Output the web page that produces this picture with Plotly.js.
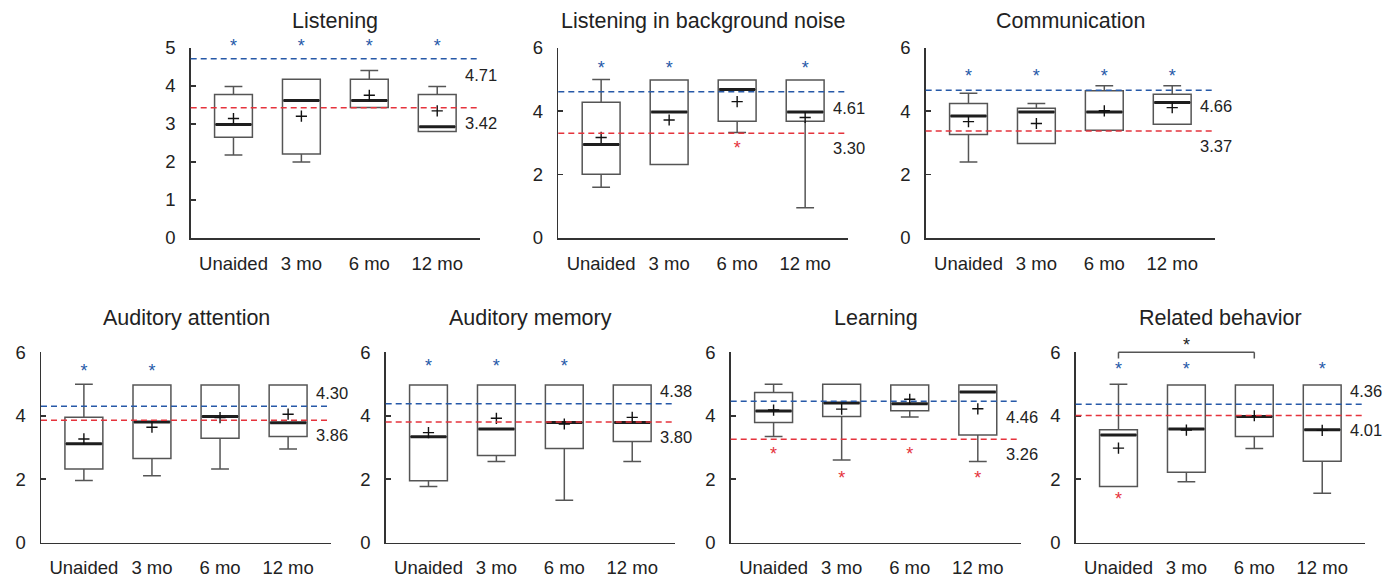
<!DOCTYPE html>
<html>
<head>
<meta charset="utf-8">
<script src="https://cdn.plot.ly/plotly-3.0.1.min.js"></script>
<style>html,body{margin:0;padding:0;background:#fff;}#chart{width:1395px;height:581px;}</style>
</head>
<body>
<div id="chart"></div>
<script>
// ---------------- DATA ----------------
const categories = ['Unaided', '3 mo', '6 mo', '12 mo'];
const panelTitles = ['Listening', 'Listening in background noise', 'Communication',
  'Auditory attention', 'Auditory memory', 'Learning', 'Related behavior'];
const yMax = [5, 6, 6, 6, 6, 6, 6];
const yStep = [1, 2, 2, 2, 2, 2, 2];

const lowerWhisker = [
  [2.18, 2.00, 3.43, 2.80],
  [1.60, 2.32, 3.33, 0.95],
  [2.40, 2.98, 3.40, 3.59],
  [1.96, 2.11, 2.32, 2.95],
  [1.77, 2.56, 1.34, 2.56],
  [3.35, 2.61, 3.96, 2.56],
  [1.77, 1.92, 2.97, 1.56]
];
const q1 = [
  [2.65, 2.21, 3.43, 2.80],
  [2.01, 2.32, 3.68, 3.68],
  [3.26, 2.98, 3.40, 3.59],
  [2.32, 2.65, 3.29, 3.35],
  [1.95, 2.75, 2.97, 3.19],
  [3.79, 3.98, 4.16, 3.39],
  [1.77, 2.22, 3.35, 2.57]
];
const median = [
  [2.98, 3.61, 3.61, 2.92],
  [2.95, 3.97, 4.68, 3.97],
  [3.85, 3.97, 3.97, 4.27],
  [3.12, 3.80, 3.98, 3.78],
  [3.34, 3.58, 3.79, 3.79],
  [4.15, 4.40, 4.38, 4.75],
  [3.39, 3.58, 3.98, 3.56]
];
const q3 = [
  [3.77, 4.17, 4.17, 3.77],
  [4.28, 4.98, 4.98, 4.98],
  [4.24, 4.09, 4.64, 4.53],
  [3.95, 4.97, 4.97, 4.97],
  [4.97, 4.97, 4.97, 4.97],
  [4.73, 4.99, 4.97, 4.97],
  [3.56, 4.97, 4.97, 4.97]
];
const upperWhisker = [
  [3.98, 4.17, 4.40, 3.98],
  [5.00, 4.98, 4.98, 4.98],
  [4.56, 4.24, 4.80, 4.80],
  [4.99, 4.97, 4.97, 4.97],
  [4.97, 4.97, 4.97, 4.97],
  [4.99, 4.99, 4.97, 4.97],
  [4.99, 4.97, 4.97, 4.97]
];
const meanValue = [
  [3.14, 3.20, 3.75, 3.34],
  [3.17, 3.72, 4.30, 3.80],
  [3.67, 3.61, 4.01, 4.11],
  [3.27, 3.64, 3.94, 4.05],
  [3.47, 3.92, 3.74, 3.95],
  [4.18, 4.21, 4.52, 4.22],
  [2.98, 3.55, 4.00, 3.54]
];
const blueRef = [4.71, 4.61, 4.66, 4.30, 4.38, 4.46, 4.36];
const redRef  = [3.42, 3.30, 3.37, 3.86, 3.80, 3.26, 4.01];
const blueLabelAbove = [false, false, false, true, true, false, true];

const blueStarCats = [
  ['Unaided', '3 mo', '6 mo', '12 mo'],
  ['Unaided', '3 mo', '12 mo'],
  ['Unaided', '3 mo', '6 mo', '12 mo'],
  ['Unaided', '3 mo'],
  ['Unaided', '3 mo', '6 mo'],
  [],
  ['Unaided', '3 mo', '12 mo']
];
const blueStarY = [
  [5.00, 5.00, 5.00, 5.00],
  [5.30, 5.30, 5.30],
  [5.06, 5.06, 5.06, 5.06],
  [5.37, 5.37],
  [5.53, 5.53, 5.53],
  [],
  [5.42, 5.42, 5.42]
];
const redStarCats = [
  [], ['6 mo'], [], [], [], ['Unaided', '3 mo', '6 mo', '12 mo'], ['Unaided']
];
const redStarY = [
  [], [2.80], [], [], [], [2.76, 1.98, 2.76, 1.98], [1.34]
];
// significance bracket in "Related behavior"
const bracketPanel = 6;
const bracketFrom = 0;   // Unaided
const bracketTo = 2;     // 6 mo

// ---------------- LAYOUT (pixel boxes of each plot area) ----------------
const W = 1395, H = 581;
const plotBoxes = [
  [190.7, 480.0, 47.7, 238.0],
  [558.3, 848.0, 47.7, 238.0],
  [925.7, 1215.0, 47.7, 238.0],
  [41.0, 331.0, 352.3, 542.7],
  [385.7, 675.0, 352.3, 542.7],
  [730.7, 1020.7, 352.3, 542.7],
  [1075.7, 1365.0, 352.3, 542.7]
];
const titleY = [21, 21, 21, 318, 318, 318, 318];

const FONT = 'Liberation Sans, Arial, Helvetica, sans-serif';
const TXT = '#222';
const BLUE = '#2659a8';
const RED = '#e5333c';
const BOXW = 0.557;

const traces = [];
const layout = {
  width: W, height: H,
  margin: {l: 0, r: 0, t: 0, b: 0},
  paper_bgcolor: '#fff', plot_bgcolor: 'rgba(0,0,0,0)',
  showlegend: false,
  font: {family: FONT, color: TXT, size: 18},
  shapes: [], annotations: []
};

plotBoxes.forEach((b, i) => {
  const n = i === 0 ? '' : String(i + 1);
  const xa = 'x' + n, ya = 'y' + n;
  layout['xaxis' + n] = {
    domain: [b[0] / W, b[1] / W], anchor: ya,
    type: 'category', categoryarray: categories, range: [-0.63, 3.63],
    showline: true, linecolor: '#333', linewidth: 1.5, ticks: '',
    showgrid: false, zeroline: false, fixedrange: true,
    tickfont: {family: FONT, size: 18.5, color: TXT}, ticklabelstandoff: 8
  };
  layout['yaxis' + n] = {
    domain: [1 - b[3] / H, 1 - b[2] / H], anchor: xa,
    range: [0, yMax[i]], dtick: yStep[i], tick0: 0,
    showline: true, linecolor: '#333', linewidth: 1.5,
    ticks: 'inside', ticklen: 5, tickwidth: 1.5, tickcolor: '#333',
    showgrid: false, zeroline: false, fixedrange: true,
    tickfont: {family: FONT, size: 18.5, color: TXT}, ticklabelstandoff: 10
  };

  // boxes
  traces.push({
    type: 'box', xaxis: xa, yaxis: ya, x: categories,
    q1: q1[i], median: median[i], q3: q3[i],
    lowerfence: lowerWhisker[i], upperfence: upperWhisker[i],
    width: BOXW, whiskerwidth: 0.47,
    line: {color: '#555', width: 1.5}, fillcolor: 'rgba(255,255,255,0)',
    hoverinfo: 'skip', boxpoints: false
  });
  // thick median line
  traces.push({
    type: 'box', xaxis: xa, yaxis: ya, x: categories,
    q1: median[i], median: median[i], q3: median[i],
    lowerfence: median[i], upperfence: median[i],
    width: BOXW - 0.03, whiskerwidth: 0,
    line: {color: '#1e1e1e', width: 3}, fillcolor: 'rgba(0,0,0,0)',
    hoverinfo: 'skip', boxpoints: false
  });
  // mean markers
  traces.push({
    type: 'scatter', mode: 'markers', xaxis: xa, yaxis: ya,
    x: categories, y: meanValue[i],
    marker: {symbol: 'cross-thin-open', size: 8, color: '#111', line: {color: '#111', width: 1.4}},
    hoverinfo: 'skip', cliponaxis: false
  });
  // stars
  if (blueStarCats[i].length) traces.push({
    type: 'scatter', mode: 'text', xaxis: xa, yaxis: ya,
    x: blueStarCats[i], y: blueStarY[i], text: blueStarCats[i].map(() => '*'),
    textposition: 'middle center', textfont: {family: FONT, size: 18, color: BLUE},
    hoverinfo: 'skip', cliponaxis: false
  });
  if (redStarCats[i].length) traces.push({
    type: 'scatter', mode: 'text', xaxis: xa, yaxis: ya,
    x: redStarCats[i], y: redStarY[i], text: redStarCats[i].map(() => '*'),
    textposition: 'middle center', textfont: {family: FONT, size: 18, color: RED},
    hoverinfo: 'skip', cliponaxis: false
  });

  // reference lines
  [[blueRef[i], BLUE], [redRef[i], RED]].forEach(([v, c]) => {
    layout.shapes.push({
      type: 'line', xref: xa + ' domain', yref: ya, x0: 0, x1: 1, y0: v, y1: v,
      line: {color: c, width: 1.5, dash: '6px,4px'}, layer: 'above'
    });
  });
  // reference value labels
  layout.annotations.push({
    xref: xa, yref: ya, x: 3.38, y: blueRef[i], xanchor: 'left', yanchor: 'middle',
    yshift: blueLabelAbove[i] ? 13 : -16, showarrow: false,
    text: blueRef[i].toFixed(2), font: {family: FONT, size: 16.5, color: TXT}
  });
  layout.annotations.push({
    xref: xa, yref: ya, x: 3.38, y: redRef[i], xanchor: 'left', yanchor: 'middle',
    yshift: -15, showarrow: false,
    text: redRef[i].toFixed(2), font: {family: FONT, size: 16.5, color: TXT}
  });
  // panel title
  layout.annotations.push({
    xref: 'paper', yref: 'paper', x: (b[0] + b[1]) / 2 / W, y: 1 - titleY[i] / H,
    xanchor: 'center', yanchor: 'middle', showarrow: false,
    text: panelTitles[i], font: {family: FONT, size: 21.5, color: TXT}
  });
});

// significance bracket
(function () {
  const n = String(bracketPanel + 1);
  const xa = 'x' + n, yd = 'y' + n + ' domain';
  const st = {color: '#555', width: 1.5};
  layout.shapes.push({type: 'line', xref: xa, yref: yd, x0: bracketFrom, x1: bracketTo, y0: 1, y1: 1, line: st});
  layout.shapes.push({type: 'line', xref: xa, yref: yd, x0: bracketFrom, x1: bracketFrom, y0: 0.967, y1: 1, line: st});
  layout.shapes.push({type: 'line', xref: xa, yref: yd, x0: bracketTo, x1: bracketTo, y0: 0.967, y1: 1, line: st});
  layout.annotations.push({
    xref: xa, yref: yd, x: (bracketFrom + bracketTo) / 2, y: 1, yanchor: 'middle', yshift: 7,
    showarrow: false, text: '*', font: {family: FONT, size: 18, color: '#222'}
  });
})();

Plotly.newPlot('chart', traces, layout, {displayModeBar: false, staticPlot: true});
</script>
</body>
</html>
